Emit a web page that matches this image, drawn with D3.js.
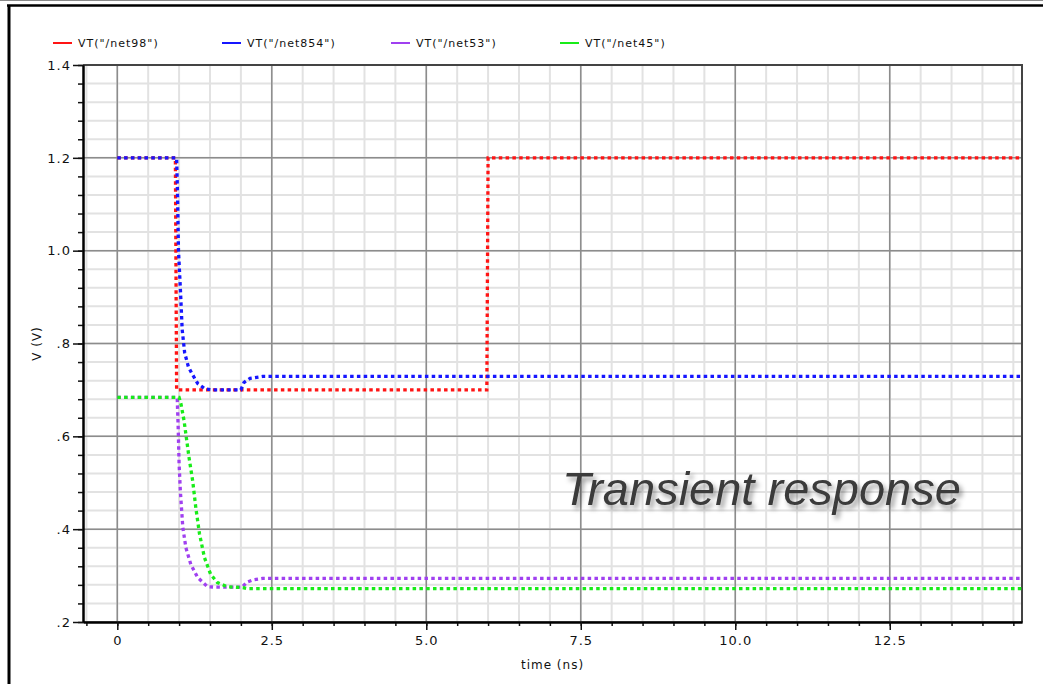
<!DOCTYPE html>
<html>
<head>
<meta charset="utf-8">
<script src="https://cdn.jsdelivr.net/npm/d3@7/dist/d3.min.js"></script>
<style>
    body { margin: 0; background: #fff; }
    .tick text, .legend text, .axis-title { font-family: "DejaVu Sans", sans-serif; fill: #111; }
</style>
</head>
<body>
<div id="chart"></div>
<script>

// legend names + colours (same order as the nets below)
var seriesNames = ['VT("/net98")', 'VT("/net854")', 'VT("/net53")', 'VT("/net45")'];
var seriesColors = ["#ff1414", "#1616ff", "#a040f0", "#18ec18"];

// time in ns, voltage in V
var net98Time = [0, 0.94, 0.96, 5.98, 6.0, 14.64];
var net98Volt = [1.2, 1.2, 0.70, 0.70, 1.2, 1.2];

var net854Time = [0, 0.96, 0.975, 0.99, 1.02, 1.05, 1.09, 1.15, 1.2, 1.3, 1.42, 1.55, 2.0, 2.05, 2.15, 2.35, 14.64];
var net854Volt = [1.2, 1.2, 1.12, 1.0, 0.92, 0.83, 0.78, 0.75, 0.737, 0.714, 0.702, 0.70, 0.70, 0.716, 0.725, 0.729, 0.729];

var net53Time = [0, 0.97, 0.975, 0.985, 1.0, 1.02, 1.06, 1.11, 1.19, 1.3, 1.46, 1.6, 2.02, 2.1, 2.2, 2.35, 14.64];
var net53Volt = [0.684, 0.684, 0.66, 0.62, 0.541, 0.483, 0.404, 0.36, 0.324, 0.296, 0.276, 0.275, 0.275, 0.286, 0.291, 0.294, 0.294];

var net45Time = [0, 1.0, 1.03, 1.08, 1.16, 1.22, 1.27, 1.33, 1.41, 1.51, 1.62, 1.78, 2.03, 2.1, 14.64];
var net45Volt = [0.684, 0.684, 0.67, 0.634, 0.555, 0.504, 0.447, 0.39, 0.339, 0.303, 0.285, 0.276, 0.274, 0.272, 0.272];

var xTickValues = [0, 2.5, 5, 7.5, 10, 12.5];
var xTickLabels = ["0", "2.5", "5.0", "7.5", "10.0", "12.5"];
var yTickValues = [0.2, 0.4, 0.6, 0.8, 1.0, 1.2, 1.4];
var yTickLabels = [".2", ".4", ".6", ".8", "1.0", "1.2", "1.4"];

var xDomain = [-0.555, 14.64];
var yDomain = [0.2, 1.4];


TransientChart = function(_parentElement, _series){
    this.parentElement = _parentElement;
    this.series = _series;

    this.initVis();
};

TransientChart.prototype.initVis = function() {
    var vis = this;

    vis.margin = {top: 65, right: 21, bottom: 62, left: 83};

    vis.width = 1043 - vis.margin.left - vis.margin.right,
        vis.height = 684 - vis.margin.top - vis.margin.bottom;

    vis.svg = d3.select("#" + vis.parentElement).append("svg")
        .attr("width", 1043)
        .attr("height", 684)
        .style("display", "block");

    // outer window frame
    vis.svg.append("line")
        .attr("x1", 0).attr("x2", 1043).attr("y1", 0.5).attr("y2", 0.5)
        .attr("stroke", "#8a8a8a").attr("stroke-width", 1);
    vis.svg.append("line")
        .attr("x1", 7).attr("x2", 1043).attr("y1", 5.5).attr("y2", 5.5)
        .attr("stroke", "#000").attr("stroke-width", 2.5);
    vis.svg.append("line")
        .attr("x1", 9).attr("x2", 9).attr("y1", 5).attr("y2", 684)
        .attr("stroke", "#000").attr("stroke-width", 3);

    // drop shadow for the caption
    var filter = vis.svg.append("defs").append("filter")
        .attr("id", "shadow")
        .attr("x", "-10%").attr("y", "-30%")
        .attr("width", "130%").attr("height", "180%");
    filter.append("feDropShadow")
        .attr("dx", 3).attr("dy", 4)
        .attr("stdDeviation", 2.5)
        .attr("flood-color", "#000")
        .attr("flood-opacity", 0.4);

    vis.svg.append("defs").append("clipPath")
        .attr("id", "plot-clip")
        .append("rect")
        .attr("width", vis.width)
        .attr("height", vis.height);

    vis.g = vis.svg.append("g")
        .attr("transform", "translate(" + vis.margin.left + "," + vis.margin.top + ")");

    vis.x = d3.scaleLinear().domain(xDomain).range([0, vis.width]);
    vis.y = d3.scaleLinear().domain(yDomain).range([vis.height, 0]);

    vis.xMinor = d3.range(-0.5, 14.51, 0.5);
    vis.yMinor = d3.range(0.2, 1.401, 0.04);

    vis.updateVis();
};

TransientChart.prototype.updateVis = function() {
    var vis = this;

    // minor grid
    vis.g.append("g").selectAll("line.vminor")
        .data(vis.xMinor)
        .enter().append("line")
        .attr("x1", function(d){ return vis.x(d); })
        .attr("x2", function(d){ return vis.x(d); })
        .attr("y1", 0).attr("y2", vis.height)
        .attr("stroke", "#e2e2e2").attr("stroke-width", 2);
    vis.g.append("g").selectAll("line.hminor")
        .data(vis.yMinor)
        .enter().append("line")
        .attr("x1", 0).attr("x2", vis.width)
        .attr("y1", function(d){ return vis.y(d); })
        .attr("y2", function(d){ return vis.y(d); })
        .attr("stroke", "#e2e2e2").attr("stroke-width", 2);

    // major grid
    vis.g.append("g").selectAll("line")
        .data(xTickValues)
        .enter().append("line")
        .attr("x1", function(d){ return vis.x(d); })
        .attr("x2", function(d){ return vis.x(d); })
        .attr("y1", 0).attr("y2", vis.height)
        .attr("stroke", "#8c8c8c").attr("stroke-width", 1.5);
    vis.g.append("g").selectAll("line")
        .data(yTickValues)
        .enter().append("line")
        .attr("x1", 0).attr("x2", vis.width)
        .attr("y1", function(d){ return vis.y(d); })
        .attr("y2", function(d){ return vis.y(d); })
        .attr("stroke", "#8c8c8c").attr("stroke-width", 1.5);

    // top + right frame
    vis.g.append("path")
        .attr("d", "M0,0H" + vis.width + "V" + vis.height)
        .attr("fill", "none")
        .attr("stroke", "#444").attr("stroke-width", 2);

    // waveforms
    var line = d3.line()
        .x(function(d){ return vis.x(d.t); })
        .y(function(d){ return vis.y(d.v); });

    vis.g.append("g")
        .attr("clip-path", "url(#plot-clip)")
        .selectAll("path")
        .data(vis.series)
        .enter().append("path")
        .attr("d", function(s){ return line(s.points); })
        .attr("fill", "none")
        .attr("stroke", function(s){ return s.color; })
        .attr("stroke-width", 3.3)
        .attr("stroke-dasharray", "3.5,3.3");

    // axes
    var xMinorAxis = d3.axisBottom(vis.x).tickValues(vis.xMinor)
        .tickSize(4).tickSizeOuter(0).tickFormat("");
    var xAxis = d3.axisBottom(vis.x).tickValues(xTickValues)
        .tickSize(8).tickSizeOuter(0).tickPadding(6)
        .tickFormat(function(d, i){ return xTickLabels[i]; });
    var yMinorAxis = d3.axisLeft(vis.y).tickValues(vis.yMinor)
        .tickSize(5).tickSizeOuter(0).tickFormat("");
    var yAxis = d3.axisLeft(vis.y).tickValues(yTickValues)
        .tickSize(10).tickSizeOuter(0).tickPadding(2)
        .tickFormat(function(d, i){ return yTickLabels[i]; });

    [xMinorAxis, xAxis].forEach(function(ax){
        vis.g.append("g")
            .attr("transform", "translate(0," + vis.height + ")")
            .call(ax);
    });
    [yMinorAxis, yAxis].forEach(function(ax){
        vis.g.append("g").call(ax);
    });

    vis.g.selectAll(".domain").attr("stroke", "#000").attr("stroke-width", 2);
    vis.g.selectAll(".tick line").attr("stroke", "#111").attr("stroke-width", 1.5);
    vis.g.selectAll(".tick text")
        .style("font-size", "13px")
        .style("letter-spacing", "1px");

    // axis titles
    vis.svg.append("text")
        .attr("class", "axis-title")
        .attr("x", vis.margin.left + vis.width / 2)
        .attr("y", 669)
        .attr("text-anchor", "middle")
        .style("font-size", "12px")
        .style("letter-spacing", "1px")
        .text("time (ns)");

    vis.svg.append("text")
        .attr("class", "axis-title")
        .attr("transform", "translate(41," + (vis.margin.top + vis.height / 2) + ") rotate(-90)")
        .attr("text-anchor", "middle")
        .style("font-size", "12px")
        .style("letter-spacing", "1px")
        .text("V (V)");

    // legend
    var legend = vis.svg.append("g").attr("class", "legend")
        .selectAll("g")
        .data(vis.series)
        .enter().append("g")
        .attr("transform", function(d, i){ return "translate(" + (53 + i * 169) + ",43)"; });
    legend.append("line")
        .attr("x1", 0).attr("x2", 19)
        .attr("stroke", function(d){ return d.color; })
        .attr("stroke-width", 2);
    legend.append("text")
        .attr("x", 25)
        .attr("dy", "0.35em")
        .style("font-size", "11px")
        .style("letter-spacing", "1px")
        .text(function(d){ return d.name; });

    // caption
    vis.svg.append("text")
        .attr("x", 562)
        .attr("y", 505)
        .attr("filter", "url(#shadow)")
        .style("font-family", "'Liberation Sans', Arial, sans-serif")
        .style("font-style", "italic")
        .style("font-size", "47px")
        .style("fill", "#3a3a3a")
        .text("Transient response");
};


function zipSeries(times, volts){
    return times.map(function(t, i){ return {t: t, v: volts[i]}; });
}

var series = [
    {name: seriesNames[0], color: seriesColors[0], points: zipSeries(net98Time, net98Volt)},
    {name: seriesNames[1], color: seriesColors[1], points: zipSeries(net854Time, net854Volt)},
    {name: seriesNames[2], color: seriesColors[2], points: zipSeries(net53Time, net53Volt)},
    {name: seriesNames[3], color: seriesColors[3], points: zipSeries(net45Time, net45Volt)}
];

var chart = new TransientChart("chart", series);

</script>
</body>
</html>
